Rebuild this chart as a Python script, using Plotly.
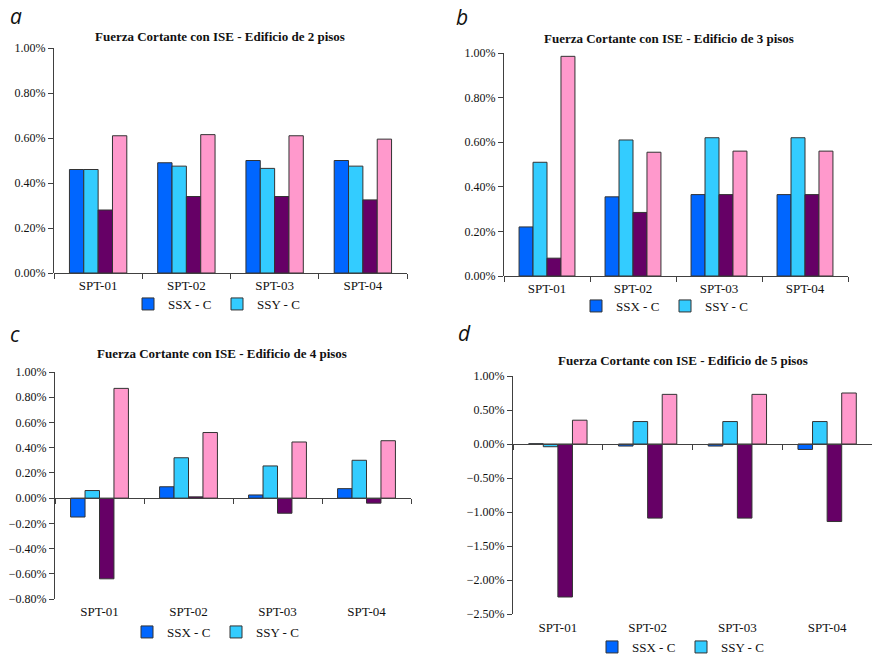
import plotly.graph_objects as go

W, H = 872, 657

categories = ["SPT-01", "SPT-02", "SPT-03", "SPT-04"]
series_names = ["SSX - C", "SSY - C", "Serie 3", "Serie 4"]
series_colors = ["#0066FF", "#33CCFF", "#660066", "#FF99CC"]

# Shear force variation with SSI, in percent
ed2_ssx = [0.46, 0.49, 0.50, 0.50]
ed2_ssy = [0.46, 0.475, 0.465, 0.475]
ed2_s3 = [0.28, 0.34, 0.34, 0.325]
ed2_s4 = [0.61, 0.615, 0.61, 0.595]

ed3_ssx = [0.22, 0.355, 0.365, 0.365]
ed3_ssy = [0.51, 0.61, 0.62, 0.62]
ed3_s3 = [0.08, 0.285, 0.365, 0.365]
ed3_s4 = [0.985, 0.555, 0.56, 0.56]

ed4_ssx = [-0.15, 0.09, 0.025, 0.075]
ed4_ssy = [0.06, 0.32, 0.255, 0.30]
ed4_s3 = [-0.64, 0.01, -0.12, -0.04]
ed4_s4 = [0.87, 0.52, 0.445, 0.455]

ed5_ssx = [0.004, -0.03, -0.03, -0.08]
ed5_ssy = [-0.04, 0.33, 0.33, 0.33]
ed5_s3 = [-2.25, -1.09, -1.09, -1.14]
ed5_s4 = [0.35, 0.73, 0.73, 0.75]

panel_titles = [
    "Fuerza Cortante con ISE - Edificio de 2 pisos",
    "Fuerza Cortante con ISE - Edificio de 3 pisos",
    "Fuerza Cortante con ISE - Edificio de 4 pisos",
    "Fuerza Cortante con ISE - Edificio de 5 pisos",
]
panel_letters = ["a", "b", "c", "d"]
y_ranges = [(0, 1.0, 0.2), (0, 1.0, 0.2), (-0.8, 1.0, 0.2), (-2.5, 1.0, 0.5)]

panels = [
    [ed2_ssx, ed2_ssy, ed2_s3, ed2_s4],
    [ed3_ssx, ed3_ssy, ed3_s3, ed3_s4],
    [ed4_ssx, ed4_ssy, ed4_s3, ed4_s4],
    [ed5_ssx, ed5_ssy, ed5_s3, ed5_s4],
]

# plot-area boxes in pixels: left, right, top, bottom
boxes = [(54, 407, 48, 273), (504, 848, 53, 276), (55, 411, 372, 599), (513, 872, 376, 614)]
title_pos = [(220, 36), (669, 39), (222, 353), (683, 360)]
letter_pos = [(8, 16), (454, 17), (8, 334), (456, 333)]
legend_pos = [(128, 304), (576, 306), (127, 632), (592, 647)]
label_standoff = [0, 0, 101, 171]

SERIF = "Times New Roman, Liberation Serif, Tinos, serif"
AX = "#404040"


def px_x(v):
    return v / W


def px_y(v):
    return 1 - v / H


fig = go.Figure()
layout = dict(
    width=W, height=H,
    # legends sit inside the paper; keep them from growing the margins
    margin=dict(l=0, r=0, t=0, b=0, autoexpand=False),
    paper_bgcolor="white", plot_bgcolor="white",
    barmode="group", bargap=0.35, bargroupgap=0.0,
    font=dict(family=SERIF, size=12, color="#111"),
    annotations=[],
)

for i, data in enumerate(panels):
    n = i + 1
    xa = "x" if n == 1 else f"x{n}"
    ya = "y" if n == 1 else f"y{n}"
    lg = "legend" if n == 1 else f"legend{n}"
    for j, vals in enumerate(data):
        fig.add_trace(go.Bar(
            x=categories, y=vals, name=series_names[j],
            marker=dict(color=series_colors[j], line=dict(color="#333333", width=1)),
            xaxis=xa, yaxis=ya, legend=lg, showlegend=(j < 2),
            offsetgroup=str(j),
        ))
    l, r, t, b = boxes[i]
    ymin, ymax, dt = y_ranges[i]
    ydom = [px_y(b), px_y(t)]
    zero_pos = ydom[0] + (0 - ymin) / (ymax - ymin) * (ydom[1] - ydom[0])
    xkey = "xaxis" if n == 1 else f"xaxis{n}"
    ykey = "yaxis" if n == 1 else f"yaxis{n}"
    layout[xkey] = dict(
        domain=[px_x(l), min(px_x(r), 1.0)],
        anchor="free", position=zero_pos,
        showline=True, linecolor=AX, linewidth=1,
        ticks="outside", ticklen=5, tickcolor=AX, tickson="boundaries",
        showgrid=False, zeroline=False,
        tickfont=dict(family=SERIF, size=13, color="#111"),
        ticklabelstandoff=label_standoff[i],
        range=[-0.5, 3.5], fixedrange=True,
    )
    layout[ykey] = dict(
        domain=ydom, anchor=xa if n == 1 else f"x{n}",
        range=[ymin, ymax], dtick=dt, tick0=0,
        tickformat=".2f", ticksuffix="%",
        showline=True, linecolor=AX, linewidth=1,
        ticks="outside", ticklen=5, tickcolor=AX,
        showgrid=False, zeroline=False,
        tickfont=dict(family=SERIF, size=12, color="#111"),
    )
    lx, lyy = legend_pos[i]
    layout[lg] = dict(
        orientation="h", x=px_x(lx), y=px_y(lyy), xanchor="left", yanchor="middle",
        entrywidth=44, entrywidthmode="pixels", itemwidth=30,
        font=dict(family=SERIF, size=13, color="#111"),
        bgcolor="rgba(0,0,0,0)", itemclick=False, itemdoubleclick=False,
        tracegroupgap=0,
    )
    tx, ty = title_pos[i]
    layout["annotations"].append(dict(
        text=f"<b>{panel_titles[i]}</b>", x=px_x(tx), y=px_y(ty),
        xref="paper", yref="paper", showarrow=False,
        xanchor="center", yanchor="middle",
        font=dict(family=SERIF, size=13, color="#111"),
    ))
    ax_, ay_ = letter_pos[i]
    layout["annotations"].append(dict(
        text=panel_letters[i], x=px_x(ax_), y=px_y(ay_),
        xref="paper", yref="paper", showarrow=False,
        xanchor="left", yanchor="middle",
        font=dict(family="Open Sans", size=21, color="#111", style="italic"),
    ))

fig.update_layout(**layout)
fig.write_html("out.html")
